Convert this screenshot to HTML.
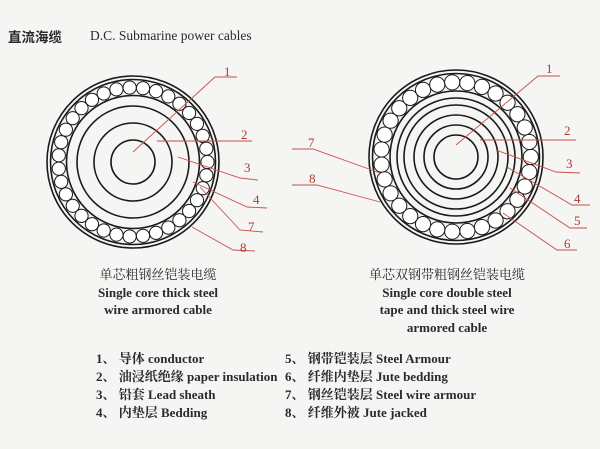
<!DOCTYPE html>
<html><head><meta charset="utf-8"><style>
html,body{margin:0;padding:0;background:#f5f5f3;}
body{width:600px;height:449px;position:relative;overflow:hidden;font-family:"Liberation Serif","Noto Serif CJK SC",serif;color:#2a2a2a;}
.t{position:absolute;white-space:nowrap;font-size:12.5px;}
.c{text-align:center;}
svg{position:absolute;left:0;top:0;}
</style></head><body>
<svg id="s" width="600" height="449" viewBox="0 0 600 449">
<g fill="none" stroke="#1a1a1a" stroke-width="1.6">
<circle cx="133" cy="162" r="86"/><circle cx="133" cy="162" r="82.5"/>
<circle cx="133" cy="162" r="66.5"/>
<circle cx="133" cy="162" r="56"/><circle cx="133" cy="162" r="39"/><circle cx="133" cy="162" r="22"/>
<circle cx="456" cy="157" r="87"/><circle cx="456" cy="157" r="83.5"/>
<circle cx="456" cy="157" r="66"/><circle cx="456" cy="157" r="59"/><circle cx="456" cy="157" r="52"/>
<circle cx="456" cy="157" r="42"/><circle cx="456" cy="157" r="32"/><circle cx="456" cy="157" r="22"/>
</g>
<g id="balls" fill="#fff" stroke="#1a1a1a" stroke-width="1"></g>
<g fill="none" stroke="#c8504a" stroke-width="0.9">
<polyline points="133,152 215,77 237,77"/>
<polyline points="157,141 252,141"/>
<polyline points="178,157 240,178 258,180"/>
<polyline points="193,182 247,207 267,208"/>
<polyline points="200,187 240,230 263,232"/>
<polyline points="192,227 233,250 255,251"/>
<polyline points="456,145 538,76 560,76"/>
<polyline points="480,140 576,140"/>
<polyline points="496,150 556,172 580,173"/>
<polyline points="507,167 572,205 590,205"/>
<polyline points="510,188 570,228 587,228"/>
<polyline points="503,213 557,250 577,250"/>
<polyline points="292,149 313,149 380,173"/>
<polyline points="292,185 317,185 380,202"/>
</g>
<g fill="#b03a30" font-family="Liberation Serif, serif" font-size="13">
<text x="224" y="76">1</text><text x="241" y="139">2</text><text x="244" y="172">3</text>
<text x="253" y="204">4</text><text x="248" y="231">7</text><text x="240" y="252">8</text>
<text x="546" y="73">1</text><text x="564" y="135">2</text><text x="566" y="168">3</text>
<text x="574" y="203">4</text><text x="574" y="225">5</text><text x="564" y="248">6</text>
<text x="308" y="147">7</text><text x="309" y="183">8</text>
</g>
</svg>
<script>
(function(){var g=document.getElementById('balls');var ns='http://www.w3.org/2000/svg';
function ring(cx,cy,R,r,n){for(var i=0;i<n;i++){var a=2*Math.PI*i/n;var c=document.createElementNS(ns,'circle');c.setAttribute('cx',cx+R*Math.cos(a));c.setAttribute('cy',cy+R*Math.sin(a));c.setAttribute('r',r);g.appendChild(c);}}
ring(133,162,74.5,6.6,35);ring(456,157,74.8,7.6,31);})();
</script>
<div class="t" style="left:8px;top:27px;font-size:13.5px;line-height:18px;"><b style="font-family:'Noto Sans CJK SC',sans-serif;">直流海缆</b></div>
<div class="t" style="left:90px;top:27px;font-size:13.5px;line-height:18px;">D.C. Submarine power cables</div>
<div class="t c" style="left:58px;width:200px;top:266px;line-height:17.5px;font-size:13px;">单芯粗钢丝铠装电缆<br><b>Single core thick steel<br>wire armored cable</b></div>
<div class="t c" style="left:347px;width:200px;top:266px;line-height:17.5px;font-size:13px;">单芯双钢带粗钢丝铠装电缆<br><b>Single core double steel<br>tape and thick steel wire<br>armored cable</b></div>
<div class="t" style="left:96px;top:350px;line-height:18px;font-size:13px;"><b>1、 导体 conductor<br>2、 油浸纸绝缘 paper insulation<br>3、 铅套 Lead sheath<br>4、 内垫层 Bedding</b></div>
<div class="t" style="left:285px;top:350px;line-height:18px;font-size:13px;"><b>5、 钢带铠装层 Steel Armour<br>6、 纤维内垫层 Jute bedding<br>7、 钢丝铠装层 Steel wire armour<br>8、 纤维外被 Jute jacked</b></div>
</body></html>
